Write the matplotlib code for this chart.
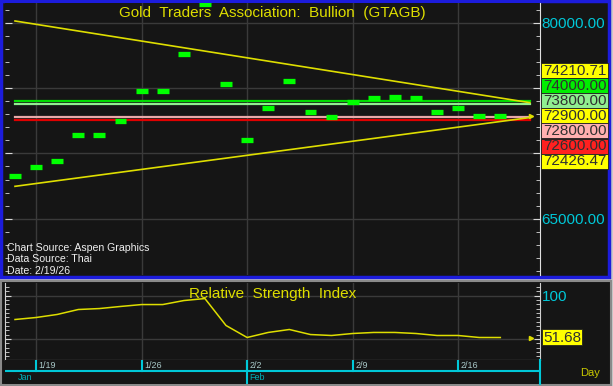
import matplotlib.pyplot as plt
from matplotlib.patches import Rectangle
from matplotlib.ticker import MultipleLocator

plt.rcParams['font.family'] = ['Liberation Sans', 'DejaVu Sans']

# daily closes (baht), 1/16 .. 2/18
dates = ['1/16', '1/19', '1/20', '1/21', '1/22', '1/23',
         '1/26', '1/27', '1/28', '1/29', '1/30',
         '2/2', '2/3', '2/4', '2/5', '2/6',
         '2/9', '2/10', '2/11', '2/12', '2/13',
         '2/16', '2/17', '2/18']
closes = [68300, 68950, 69450, 71450, 71450, 72450,
          74750, 74750, 77650, 81450, 75350,
          71000, 73450, 75550, 73150, 72800,
          73950, 74250, 74350, 74250, 73150,
          73500, 72850, 72850]
rsi = [72.4, 74.7, 78.2, 83.9, 85.0, 87.4,
       89.6, 89.6, 94.2, 96.5, 65.5,
       51.7, 57.5, 60.9, 55.1, 54.0,
       56.3, 57.5, 57.5, 56.3, 54.0,
       54.0, 51.7, 51.68]

# trend lines (start/end index and price)
trend_x = [0, 24.4]
upper_trend = [80150, 73890]
lower_trend = [67480, 72750]

# horizontal levels
levels = [74000, 73800, 72800, 72600]
level_colors = ['#00dd00', '#90ee90', '#e8a8a8', '#e00000']

# right-hand labels
tag_text = ['74210.71', '74000.00', '73800.00', '72900.00', '72800.00', '72600.00', '72426.47']
tag_colors = ['#ffff00', '#00ee00', '#90ee90', '#ffff00', '#ffb0b0', '#ff2020', '#ffff00']
last_price = 72900
last_rsi = 51.68

week_idx = [1, 6, 11, 16, 21]
month_idx = [0, 11]
month_names = ['Jan', 'Feb']

W, H = 613, 386
BG = '#151515'
YEL = '#dede00'
CYAN = '#00c8d8'
GRID = '#3a3a3a'


def box(l, t, r, b):
    return [l / W, 1 - b / H, (r - l) / W, (b - t) / H]


fig = plt.figure(figsize=(W / 100, H / 100), dpi=100, facecolor='#c8c8c8')
fig.patches.append(Rectangle((1 / W, 1 - 277 / H), 608 / W, 276 / H, transform=fig.transFigure,
                             fc=BG, ec='#1c1cdc', lw=2.5, zorder=-10))
fig.patches.append(Rectangle((1 / W, 1 / H), 610 / W, 104 / H, transform=fig.transFigure,
                             fc=BG, ec='#8a8a8a', lw=1.5, zorder=-10))

xlim = (-0.474, 24.88)
x = list(range(len(dates)))

# ---- price panel
ax1 = fig.add_axes(box(5, 3, 540, 275))
ax1.set_facecolor(BG)
ax1.set_xlim(*xlim)
ax1.set_ylim(60686, 81527)
for s in ['top', 'bottom', 'left']:
    ax1.spines[s].set_visible(False)
ax1.spines['right'].set_color('#e0e0e0')
ax1.set_xticks([])
ax1.yaxis.set_major_locator(MultipleLocator(5000))
ax1.yaxis.set_minor_locator(MultipleLocator(1000))
ax1.tick_params(axis='y', which='both', direction='in', left=True, right=True,
                colors='#d8d8d8', labelleft=False, labelright=True, labelcolor=CYAN,
                labelsize=11, pad=1)
ax1.tick_params(axis='y', which='major', length=5)
ax1.tick_params(axis='y', which='minor', length=3)
ax1.set_yticks([65000, 70000, 75000, 80000])
ax1.set_yticklabels(['65000.00', '', '', '80000.00'])
for v in [65000, 70000, 75000, 80000]:
    ax1.axhline(v, color=GRID, lw=1, zorder=0)
for i in week_idx:
    ax1.axvline(i, color=GRID, lw=1, zorder=0)

for lv, c in zip(levels, level_colors):
    ax1.plot([trend_x[0], trend_x[1]], [lv, lv], color=c, lw=1.6, zorder=2)
ax1.plot(trend_x, upper_trend, color=YEL, lw=1.2, zorder=3)
ax1.plot(trend_x, lower_trend, color=YEL, lw=1.2, zorder=3)
ax1.hlines(closes, [i - 0.28 for i in x], [i + 0.28 for i in x], color='#00ff00', lw=3.8, zorder=4)
ax1.plot([24.45], [last_price], marker='>', color=YEL, ms=3, zorder=5)

ax1.text(0.5, 0.962, 'Gold  Traders  Association:  Bullion  (GTAGB)', transform=ax1.transAxes,
         ha='center', va='center', color=YEL, fontsize=11)
for k, t in enumerate(['Chart Source: Aspen Graphics', 'Data Source: Thai', 'Date: 2/19/26']):
    fig.text(7 / W, 1 - (248 + 11.5 * k) / H, t, color='#f0f0f0', fontsize=7.6, va='center')

# stacked value tags
for k, (t, c) in enumerate(zip(tag_text, tag_colors)):
    top = 63 + 15.1 * k
    fig.patches.append(Rectangle((541 / W, 1 - (top + 15.1) / H), 67 / W, 15.1 / H,
                                 transform=fig.transFigure, fc=c, ec='#202020', lw=0.6))
    fig.text(574.5 / W, 1 - (top + 7.8) / H, t, color='#303030', fontsize=11, ha='center', va='center')

# ---- RSI panel
ax2 = fig.add_axes(box(5, 283, 540, 360))
ax2.set_facecolor(BG)
ax2.set_xlim(*xlim)
ax2.set_ylim(25.8, 114.4)
ax2.spines['top'].set_visible(False)
for s in ['left', 'right', 'bottom']:
    ax2.spines[s].set_color('#d0d0d0')
ax2.set_xticks([])
ax2.yaxis.set_major_locator(MultipleLocator(50))
ax2.yaxis.set_minor_locator(MultipleLocator(5))
ax2.tick_params(axis='y', which='both', direction='in', left=True, right=True,
                colors='#d8d8d8', labelleft=False, labelright=True, labelcolor=CYAN,
                labelsize=11, pad=1)
ax2.tick_params(axis='y', which='major', length=4)
ax2.tick_params(axis='y', which='minor', length=3)
ax2.set_yticks([50, 100])
ax2.set_yticklabels(['', '100'])
for v in [50, 100]:
    ax2.axhline(v, color=GRID, lw=1, zorder=0)
for i in week_idx:
    ax2.axvline(i, color=GRID, lw=1, zorder=0)
ax2.plot(x, rsi, color=YEL, lw=1.1)
ax2.plot([24.45], [last_rsi], marker='>', color=YEL, ms=3)
ax2.text(0.5, 0.86, 'Relative  Strength  Index', transform=ax2.transAxes,
         ha='center', va='center', color=YEL, fontsize=11)
fig.patches.append(Rectangle((542 / W, 1 - 345 / H), 40 / W, 16 / H, transform=fig.transFigure,
                             fc='#ffff00', ec='#202020', lw=0.6))
fig.text(562 / W, 1 - 337.5 / H, '%.2f' % last_rsi, color='#303030', fontsize=11, ha='center', va='center')

# ---- date axis
ax3 = fig.add_axes(box(5, 360, 540, 384))
ax3.set_facecolor(BG)
ax3.set_xlim(*xlim)
ax3.set_ylim(0, 1)
for s in ['top', 'left', 'bottom']:
    ax3.spines[s].set_visible(False)
ax3.spines['right'].set_color(CYAN)
ax3.spines['right'].set_linewidth(1.5)
ax3.set_xticks([])
ax3.set_yticks([])
ax3.axhline(0.54, color=CYAN, lw=1.5)
for i in week_idx:
    ax3.plot([i, i], [0.54, 1], color=CYAN, lw=1.5)
    ax3.text(i + 0.12, 0.78, dates[i], color='#a8c8c8', fontsize=6.5, va='center')
for i, m in zip(month_idx, month_names):
    if i > 0:
        ax3.plot([i, i], [0, 1], color=CYAN, lw=1.5)
    ax3.text(i + 0.12, 0.27, m, color='#00b0b8', fontsize=6.5, va='center')
fig.text(590 / W, 1 - 373 / H, 'Day', color='#c8c800', fontsize=8, ha='center', va='center')

fig.savefig('out.png', dpi=100, facecolor=fig.get_facecolor())
